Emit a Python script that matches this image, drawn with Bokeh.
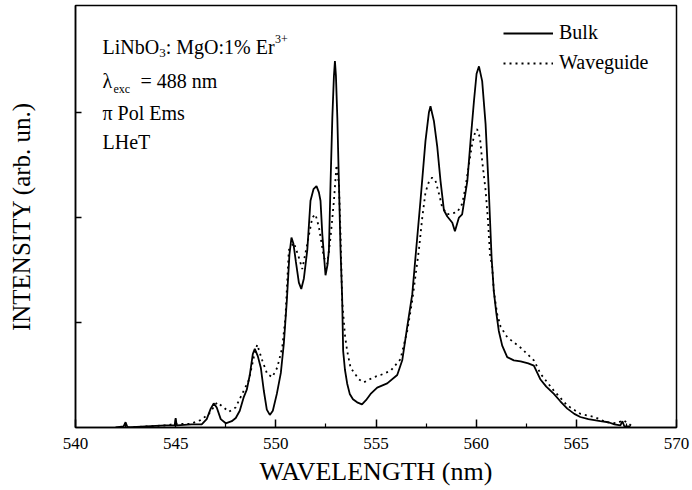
from bokeh.plotting import figure
from bokeh.models import Range1d, FixedTicker, Label, Legend, LegendItem
from bokeh.embed import file_html
from bokeh.resources import INLINE

# ---- data ----
wl_bulk = [542.0, 542.4, 542.5, 542.6, 543.5, 544.5, 544.95, 545.0, 545.05, 545.8,
           546.3, 546.55, 546.75, 546.9, 547.05, 547.25, 547.5, 547.8, 548.0, 548.2,
           548.4, 548.55, 548.7, 548.85, 548.95, 549.1, 549.25, 549.4, 549.55, 549.7,
           549.85, 550.05, 550.25, 550.4, 550.55, 550.68, 550.78, 550.88, 551.0, 551.15,
           551.27, 551.4, 551.57, 551.73, 551.88, 552.03, 552.15, 552.23, 552.32, 552.48,
           552.58, 552.65, 552.73, 552.82, 552.9, 552.95, 553.0, 553.07, 553.15, 553.23,
           553.31, 553.36, 553.45, 553.56, 553.69, 553.85, 554.06, 554.3, 554.5, 554.73,
           555.06, 555.56, 556.06, 556.31, 556.56, 556.81, 556.97, 557.22, 557.47, 557.64,
           557.72, 557.89, 558.06, 558.22, 558.39, 558.56, 558.81, 558.94, 559.14, 559.3,
           559.56, 559.72, 559.89, 560.02, 560.14, 560.3, 560.47, 560.63, 560.77, 560.88,
           561.0, 561.13, 561.3, 561.55, 561.88, 562.22, 562.6, 562.88, 563.2, 563.5,
           563.88, 564.2, 564.55, 564.9, 565.2, 565.6, 566.2, 566.6, 566.9, 567.2,
           567.3, 567.4, 567.7]
int_bulk = [0.00, 0.01, 0.05, 0.00, 0.01, 0.02, 0.02, 0.09, 0.02, 0.03,
            0.03, 0.08, 0.18, 0.23, 0.19, 0.08, 0.04, 0.06, 0.09, 0.16,
            0.29, 0.36, 0.50, 0.70, 0.75, 0.68, 0.57, 0.35, 0.17, 0.12,
            0.16, 0.32, 0.52, 0.80, 1.21, 1.65, 1.81, 1.75, 1.58, 1.38,
            1.32, 1.42, 1.69, 2.16, 2.27, 2.30, 2.24, 2.16, 1.84, 1.45,
            1.55, 1.69, 2.32, 2.95, 3.35, 3.49, 3.35, 2.95, 2.32, 1.69,
            1.24, 0.73, 0.55, 0.42, 0.32, 0.27, 0.24, 0.22, 0.26, 0.32,
            0.38, 0.42, 0.50, 0.64, 0.96, 1.27, 1.62, 2.16, 2.73, 3.00,
            3.06, 2.92, 2.67, 2.35, 2.07, 2.01, 1.95, 1.87, 2.00, 2.03,
            2.35, 2.73, 3.11, 3.37, 3.44, 3.30, 2.89, 2.26, 1.62, 1.30,
            1.10, 0.92, 0.78, 0.67, 0.64, 0.63, 0.61, 0.59, 0.46, 0.39,
            0.32, 0.25, 0.18, 0.13, 0.10, 0.08, 0.06, 0.05, 0.03, 0.02,
            0.06, 0.01, 0.01]

wl_wg = [542.6, 543.5, 544.5, 545.0, 545.74, 546.24, 546.66, 547.07, 547.4, 547.65,
         547.99, 548.32, 548.65, 548.9, 549.07, 549.32, 549.57, 549.82, 550.07, 550.32,
         550.48, 550.65, 550.9, 551.15, 551.32, 551.57, 551.82, 551.98, 552.15, 552.4,
         552.57, 552.73, 552.9, 553.03, 553.15, 553.23, 553.31, 553.45, 553.56, 553.73,
         554.14, 554.39, 554.89, 555.23, 555.73, 556.22, 556.56, 556.81, 557.14, 557.31,
         557.47, 557.64, 557.8, 557.97, 558.14, 558.3, 558.56, 559.05, 559.3, 559.47,
         559.64, 559.8, 559.97, 560.05, 560.19, 560.3, 560.47, 560.59, 560.69, 560.8,
         560.88, 561.05, 561.22, 561.55, 562.22, 562.88, 563.22, 563.88, 564.55, 565.2,
         565.9, 566.5, 567.0, 567.35, 567.8]
int_wg = [0.00, 0.01, 0.02, 0.035, 0.035, 0.07, 0.13, 0.24, 0.19, 0.15,
          0.19, 0.32, 0.45, 0.67, 0.79, 0.64, 0.51, 0.48, 0.57, 0.76,
          1.05, 1.69, 1.76, 1.62, 1.51, 1.75, 2.00, 2.03, 1.91, 1.62,
          1.56, 1.81, 2.16, 2.50, 2.32, 1.84, 1.21, 0.88, 0.73, 0.57,
          0.46, 0.43, 0.48, 0.50, 0.54, 0.65, 0.92, 1.21, 1.69, 2.00,
          2.24, 2.34, 2.38, 2.35, 2.23, 2.10, 2.03, 2.05, 2.13, 2.29,
          2.51, 2.70, 2.83, 2.84, 2.76, 2.54, 2.26, 1.97, 1.65, 1.53,
          1.30, 1.08, 0.96, 0.86, 0.76, 0.64, 0.51, 0.35, 0.21, 0.13,
          0.10, 0.05, 0.04, 0.07, 0.01]

x_ticks = [540, 545, 550, 555, 560, 565, 570]
x_minor = [542.5, 547.5, 552.5, 557.5, 562.5, 567.5]
y_ticks = [1, 2, 3]
series_names = ["Bulk", "Waveguide"]
x_title = "WAVELENGTH (nm)"
y_title = "INTENSITY (arb. un.)"

FONT = "Liberation Serif"

p = figure(width=692, height=490, output_backend="svg", toolbar_location=None,
           x_range=Range1d(540, 570), y_range=Range1d(0, 4.02),
           min_border_left=75, min_border_right=16, min_border_top=5, min_border_bottom=63)
p.grid.visible = False
p.background_fill_color = "white"
p.border_fill_color = "white"
p.outline_line_color = "black"
p.outline_line_width = 1.5

xa = p.xaxis[0]
xa.ticker = FixedTicker(ticks=x_ticks, minor_ticks=x_minor)
xa.major_tick_in = 8
xa.major_tick_out = 0
xa.minor_tick_in = 4
xa.minor_tick_out = 0
xa.axis_line_width = 1.5
xa.major_tick_line_width = 1.5
xa.minor_tick_line_width = 1.2
xa.major_label_text_font = FONT
xa.major_label_text_font_size = "17px"
xa.major_label_text_color = "black"
xa.major_label_standoff = 10
xa.axis_label = x_title
xa.axis_label_text_font = FONT
xa.axis_label_text_font_size = "26px"
xa.axis_label_text_font_style = "normal"
xa.axis_label_text_color = "black"
xa.axis_label_standoff = 5

ya = p.yaxis[0]
ya.ticker = FixedTicker(ticks=y_ticks, minor_ticks=[])
ya.major_tick_in = 6
ya.major_tick_out = 0
ya.minor_tick_in = 0
ya.minor_tick_out = 0
ya.axis_line_width = 1.5
ya.major_tick_line_width = 1.5
ya.major_label_overrides = {t: "" for t in y_ticks}
ya.major_label_standoff = 0
ya.axis_label = y_title
ya.axis_label_text_font = FONT
ya.axis_label_text_font_size = "25px"
ya.axis_label_text_font_style = "normal"
ya.axis_label_text_color = "black"
ya.axis_label_standoff = 41

r_bulk = p.line(wl_bulk, int_bulk, line_color="black", line_width=1.8)
r_wg = p.line(wl_wg, int_wg, line_color="black", line_width=1.8, line_dash="2 4")

legend = Legend(items=[LegendItem(label=series_names[0], renderers=[r_bulk]),
                       LegendItem(label=series_names[1], renderers=[r_wg])],
                location=(428, 353), orientation="vertical",
                glyph_width=50, glyph_height=20, label_height=20, label_standoff=6,
                spacing=7, padding=0, margin=0,
                label_text_font=FONT, label_text_font_size="20px", label_text_color="black",
                border_line_alpha=0, background_fill_alpha=0)
p.add_layout(legend, "center")

def X(px):
    return 540 + (px - 75) / (601 / 30)

def Y(py):
    return (427 - py) / 105

notes = [
    ("LiNbO", 102, 46.5, "20px"),
    ("3", 158.7, 52.5, "13px"),
    (": MgO:1% Er", 165.2, 46.5, "20px"),
    ("3+", 274.5, 38, "12px"),
    ("\u03bb", 102, 80, "20px"),
    ("exc", 113, 88, "12px"),
    ("= 488 nm", 140, 80, "20px"),
    ("\u03c0 Pol Ems", 102, 112, "20px"),
    ("LHeT", 102, 141, "20px"),
]
for txt, px, py, fs in notes:
    p.add_layout(Label(x=X(px), y=Y(py), text=txt, text_font=FONT, text_font_size=fs,
                       text_color="black", text_baseline="alphabetic", text_align="left"))

open("out.html", "w").write(file_html(p, INLINE))
